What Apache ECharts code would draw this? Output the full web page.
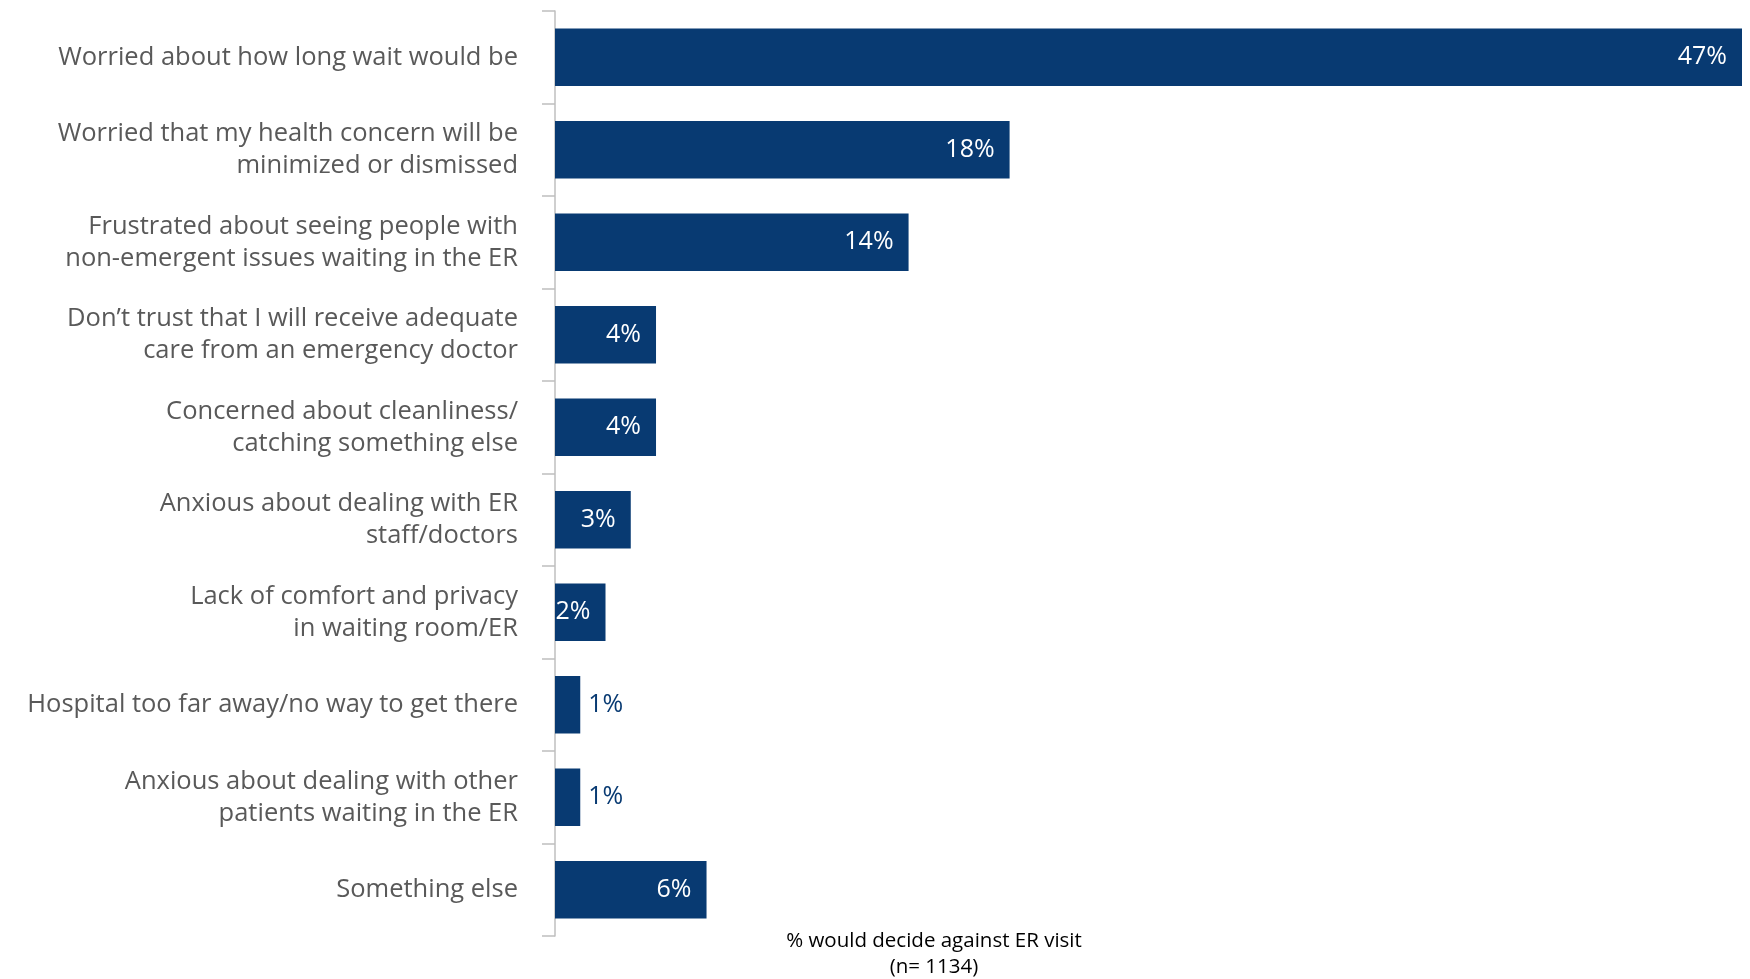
<!DOCTYPE html>
<html>
<head>
<meta charset="utf-8">
<script src="https://cdn.jsdelivr.net/npm/echarts@6/dist/echarts.min.js"></script>
<style>
html,body{margin:0;padding:0;background:#fff;}
#chart{width:1750px;height:979px;}
</style>
</head>
<body>
<div id="chart"></div>
<script>
const categories = [
  "Worried about how long wait would be",
  "Worried that my health concern will be\nminimized or dismissed",
  "Frustrated about seeing people with\nnon-emergent issues waiting in the ER",
  "Don\u2019t trust that I will receive adequate\ncare from an emergency doctor",
  "Concerned about cleanliness/\ncatching something else",
  "Anxious about dealing with ER\nstaff/doctors",
  "Lack of comfort and privacy\nin waiting room/ER",
  "Hospital too far away/no way to get there",
  "Anxious about dealing with other\npatients waiting in the ER",
  "Something else"
];
const values = [47, 18, 14, 4, 4, 3, 2, 1, 1, 6];
const axisTitle = "% would decide against ER visit\n(n= 1134)";

const NAVY = "#083a72";
const FONT = "'Open Sans', 'Noto Sans', sans-serif";

const chart = echarts.init(document.getElementById('chart'));
chart.setOption({
  animation: false,
  backgroundColor: '#fff',
  grid: {left: 555, right: 8, top: 11, bottom: 43, containLabel: false},
  title: {
    text: axisTitle,
    left: 929, top: 923,
    textAlign: 'center',
    textStyle: {fontFamily: FONT, fontSize: 20.5, fontWeight: 'normal', color: '#000', lineHeight: 26}
  },
  xAxis: {
    type: 'value', min: 0, max: 47,
    show: false
  },
  yAxis: {
    type: 'category',
    data: categories,
    inverse: true,
    axisLine: {show: true, lineStyle: {color: '#bfbfbf', width: 1.5}},
    axisTick: {show: true, length: 13, lineStyle: {color: '#bfbfbf', width: 1.5}},
    axisLabel: {
      fontFamily: FONT, fontSize: 25.5, color: '#595959',
      lineHeight: 32, margin: 37, align: 'right'
    }
  },
  series: [{
    type: 'bar',
    barCategoryGap: '38%',
    itemStyle: {color: NAVY},
    label: {
      show: true, position: 'insideRight', distance: 15,
      formatter: '{c}%', color: '#fff',
      fontFamily: FONT, fontSize: 25
    },
    data: values.map(v => v <= 1 ? {
      value: v,
      label: {position: 'right', distance: 8, color: NAVY}
    } : v)
  }]
});
</script>
</body>
</html>
